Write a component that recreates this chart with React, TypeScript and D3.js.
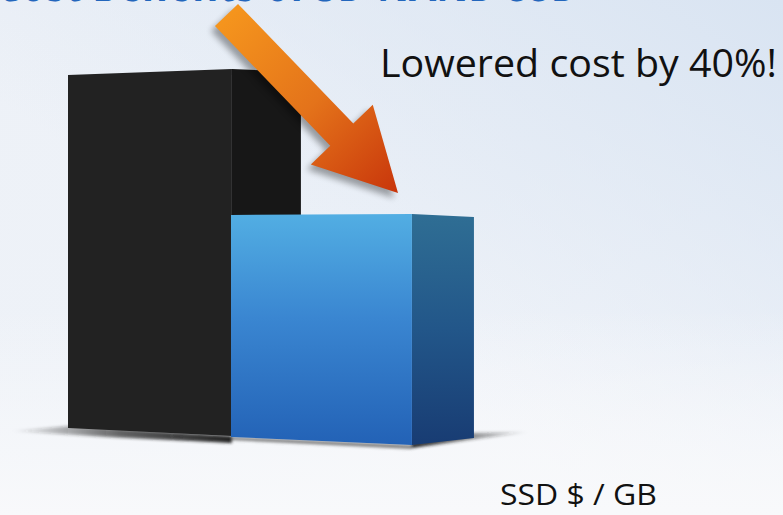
import React from "react";
import * as d3 from "d3";

// ---- data ----
const categories = ["Before", "After"];
const values = [1.0, 0.6];
const annotationText = "Lowered cost by 40%!";
const axisLabel = "SSD $ / GB";
const titleText = "Cost Benefits of 3D NAND SSD";

// ---- layout / style ----
const W = 783;
const H = 515;
// per-bar perspective tweaks (style only)
const persp = [
  { xShift: 0, wScale: 0.953, side: 69, topL: 3, topR: -3, botL: -4, botR: 4, sideBotR: 0 },
  { xShift: -9, wScale: 1.052, side: 62, topL: -1, topR: -2, botL: 5, botR: 13, sideBotR: 3 },
];

export default function App() {
  const x = d3.scaleBand<string>().domain(categories).range([68, 412]).paddingInner(0);
  const y = d3.scaleLinear().domain([0, 1]).range([432, 72]);
  const bw = x.bandwidth();

  const bars = categories.map((c, i) => {
    const p = persp[i];
    const x0 = (x(c) as number) + p.xShift;
    const x1 = x0 + bw * p.wScale;
    const x2 = x1 + p.side;
    const top = y(values[i]);
    const base = y(0);
    const front: [number, number][] = [
      [x0, top + p.topL],
      [x1, top + p.topR],
      [x1, base + p.botR],
      [x0, base + p.botL],
    ];
    const side: [number, number][] = [
      [x1, top + p.topR],
      [x2, top + p.topR + 3],
      [x2, base + p.botR - 10 + p.sideBotR],
      [x1, base + p.botR],
    ];
    return { c, i, x0, x1, x2, top, base, front, side, p };
  });

  const poly = (pts: [number, number][]) => pts.map((q) => q.join(",")).join(" ");

  // arrow geometry (annotation), from tail to tip
  const tail: [number, number] = [226.5, 15];
  const tip = [398, 193];
  const dx = tip[0] - tail[0];
  const dy = tip[1] - tail[1];
  const len = Math.hypot(dx, dy);
  const ux = dx / len, uy = dy / len;
  const nx = -uy, ny = ux;
  const headLen = 81, shaftHW = 16, headHW = 43;
  const hb = [tip[0] - ux * headLen, tip[1] - uy * headLen];
  const arrowPts: [number, number][] = [
    [tail[0] + nx * shaftHW, tail[1] + ny * shaftHW],
    [hb[0] + nx * shaftHW, hb[1] + ny * shaftHW],
    [hb[0] + nx * headHW, hb[1] + ny * headHW],
    [tip[0], tip[1]],
    [hb[0] - nx * headHW, hb[1] - ny * headHW],
    [hb[0] - nx * shaftHW, hb[1] - ny * shaftHW],
    [tail[0] - nx * shaftHW, tail[1] - ny * shaftHW],
  ];

  const black = bars[0];
  const blue = bars[1];

  return (
    <svg
      width={W}
      height={H}
      style={{ position: "absolute", left: 0, top: 0, display: "block" }}
      fontFamily="'Open Sans', Lato, sans-serif"
    >
      <defs>
        <linearGradient id="bg" x1="0" y1="0" x2="1" y2="1">
          <stop offset="0" stopColor="#EDF1F7" />
          <stop offset="0.5" stopColor="#EEF2F8" />
          <stop offset="1" stopColor="#F7F8FB" />
        </linearGradient>
        <linearGradient id="bgTR" x1="1" y1="0" x2="0.4" y2="0.6">
          <stop offset="0" stopColor="#D9E4F2" stopOpacity="1" />
          <stop offset="1" stopColor="#D9E4F2" stopOpacity="0" />
        </linearGradient>
        <linearGradient id="bgB" x1="0" y1="0" x2="0" y2="1">
          <stop offset="0.6" stopColor="#F8F9FB" stopOpacity="0" />
          <stop offset="1" stopColor="#F8F9FB" stopOpacity="1" />
        </linearGradient>
        <linearGradient id="blueFront" x1="0" y1="0" x2="0" y2="1">
          <stop offset="0" stopColor="#52AEE3" />
          <stop offset="0.45" stopColor="#3A86D1" />
          <stop offset="1" stopColor="#2362B6" />
        </linearGradient>
        <linearGradient id="blueSide" x1="0" y1="0" x2="0" y2="1">
          <stop offset="0" stopColor="#2F6E94" />
          <stop offset="0.5" stopColor="#225689" />
          <stop offset="1" stopColor="#183C73" />
        </linearGradient>
        <linearGradient id="arrowGrad" gradientUnits="userSpaceOnUse" x1={tail[0]} y1={tail[1]} x2={tip[0]} y2={tip[1]}>
          <stop offset="0" stopColor="#F5951D" />
          <stop offset="0.5" stopColor="#E4731A" />
          <stop offset="1" stopColor="#C8350B" />
        </linearGradient>
        <linearGradient id="shadowL" x1="0" y1="0" x2="1" y2="0">
          <stop offset="0" stopColor="#222" stopOpacity="0" />
          <stop offset="0.5" stopColor="#222" stopOpacity="0.7" />
          <stop offset="1" stopColor="#222" stopOpacity="1" />
        </linearGradient>
        <linearGradient id="shadowR" x1="0" y1="0" x2="1" y2="0">
          <stop offset="0" stopColor="#222" stopOpacity="1" />
          <stop offset="1" stopColor="#222" stopOpacity="0" />
        </linearGradient>
        <filter id="blur2" x="-20%" y="-50%" width="140%" height="200%">
          <feGaussianBlur stdDeviation="1.4" />
        </filter>
        <filter id="arrowShadow" x="-20%" y="-20%" width="140%" height="140%">
          <feGaussianBlur stdDeviation="3" />
        </filter>
      </defs>

      <rect width={W} height={H} fill="url(#bg)" />
      <rect width={W} height={H} fill="url(#bgTR)" />
      <rect width={W} height={H} fill="url(#bgB)" />

      {/* cut-off title */}
      <text
        x={-4}
        y={0.5}
        fontSize={56}
        fontWeight={700}
        fill="#2366BC"
        textLength={584}
        lengthAdjust="spacingAndGlyphs"
      >
        {titleText}
      </text>

      {/* floor shadows */}
      <g filter="url(#blur2)">
        <polygon
          points={poly([
            [black.x0 + 2, black.base + black.p.botL - 2],
            [10, black.base - 1],
            [black.x0 + 40, black.base + black.p.botL + 9],
            [black.x1, black.base + black.p.botR + 7],
            [black.x1, black.base + black.p.botR],
          ])}
          fill="url(#shadowL)"
        />
        <polygon
          points={poly([
            [blue.x0, blue.base + blue.p.botL],
            [blue.x1, blue.base + blue.p.botR],
            [blue.x1, blue.base + blue.p.botR + 4],
            [blue.x0, blue.base + blue.p.botL + 3],
          ])}
          fill="#555"
          opacity={0.75}
        />
        <polygon
          points={poly([
            [blue.x1, blue.base + blue.p.botR - 2],
            [blue.x2 - 2, blue.base + blue.p.botR - 12],
            [blue.x2 + 56, blue.base],
            [blue.x2 + 10, blue.base + 6],
            [blue.x1, blue.base + blue.p.botR + 3],
          ])}
          fill="url(#shadowR)"
        />
      </g>

      {/* black bar */}
      <polygon points={poly(black.side)} fill="#171717" />
      <polygon points={poly(black.front)} fill="#222222" />

      {/* blue bar */}
      <polygon points={poly(blue.side)} fill="url(#blueSide)" />
      <polygon points={poly(blue.front)} fill="url(#blueFront)" />

      {/* arrow */}
      <polygon points={poly(arrowPts)} fill="#000" opacity={0.35} transform="translate(-4,5)" filter="url(#arrowShadow)" />
      <polygon points={poly(arrowPts)} fill="url(#arrowGrad)" />

      {/* annotation */}
      <text
        x={380}
        y={77}
        fontSize={38}
        fill="#111"
        textLength={397}
        lengthAdjust="spacingAndGlyphs"
      >
        {annotationText}
      </text>

      <text x={500} y={505} fontSize={30} fill="#111" textLength={157} lengthAdjust="spacingAndGlyphs">
        {axisLabel}
      </text>
    </svg>
  );
}
